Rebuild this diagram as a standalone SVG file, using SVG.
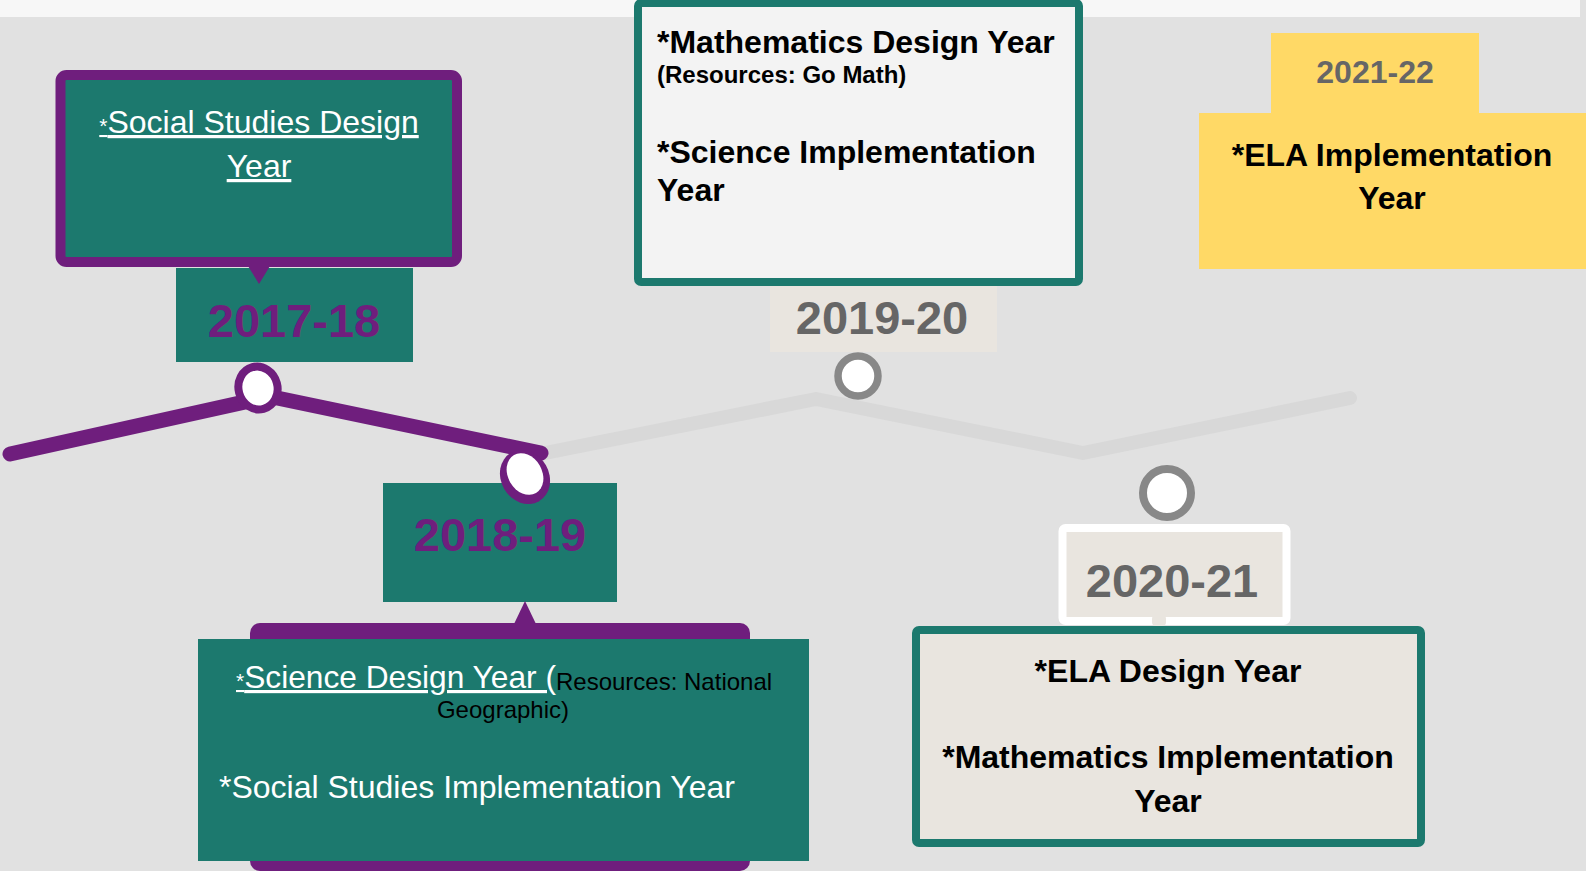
<svg xmlns="http://www.w3.org/2000/svg" width="1586" height="871" viewBox="0 0 1586 871">
<style>
  text { font-family: "Liberation Sans", Arial, sans-serif; }
  .teal { fill: #1c796e; }
  .purple { fill: #6f1e7d; }
  .wt { fill: #ffffff; }
  .bk { fill: #000000; }
  .b { font-weight: bold; }
  .yr { font-weight: bold; font-size: 47px; text-anchor: middle; }
  .yrp { fill: #6f1e7d; }
  .yrg { fill: #666666; }
  .u { text-decoration: underline; }
</style>
<rect x="0" y="0" width="1586" height="871" fill="#e1e1e1"/>
<rect x="0" y="0" width="1580" height="17" fill="#f7f7f7"/>

<g id="connectors">
  <polyline points="535,455 816,399 1083,453 1350,398" fill="none" stroke="#d8d8d8" stroke-width="14" stroke-linecap="round" stroke-linejoin="round"/>
  <line x1="10" y1="454" x2="258" y2="399" stroke="#6f1e7d" stroke-width="15" stroke-linecap="round"/>
  <line x1="258" y1="394" x2="541" y2="453" stroke="#6f1e7d" stroke-width="15" stroke-linecap="round"/>
</g>

<g id="node-2017-18">
  <rect x="176" y="268" width="237" height="94" class="teal"/>
  <text x="294" y="337" class="yr yrp">2017-18</text>
  <rect x="60.5" y="75" width="396.5" height="187" rx="6" fill="#1c796e" stroke="#6f1e7d" stroke-width="10"/>
  <polygon points="248,266 270,266 259,284" class="purple"/>
  <text x="259" y="133" text-anchor="middle" class="wt u"><tspan font-size="21">*</tspan><tspan font-size="32">Social Studies Design</tspan></text>
  <text x="259" y="177" text-anchor="middle" font-size="32" class="wt u">Year</text>
  <ellipse cx="258" cy="388" rx="19.5" ry="21.5" transform="rotate(-15 258 388)" fill="#ffffff" stroke="#6f1e7d" stroke-width="8"/>
</g>

<g id="node-2018-19">
  <rect x="383" y="483" width="234" height="119" class="teal"/>
  <text x="500" y="551" class="yr yrp">2018-19</text>
  <rect x="250" y="623" width="500" height="248" rx="10" class="purple"/>
  <polygon points="514,624 536,624 525,601" class="purple"/>
  <rect x="198" y="639" width="611" height="222" class="teal"/>
  <text x="236" y="688"><tspan font-size="21" class="wt u">*</tspan><tspan font-size="31.7" class="wt u">Science Design Year (</tspan><tspan font-size="24" class="bk" dy="2">Resources: National</tspan></text>
  <text x="503" y="718" font-size="24" text-anchor="middle" class="bk">Geographic)</text>
  <text x="219" y="798" font-size="32" class="wt">*Social Studies Implementation Year</text>
  <ellipse cx="525" cy="477" rx="24" ry="28" transform="rotate(-30 525 477)" fill="#6f1e7d"/>
  <ellipse cx="525" cy="474" rx="17" ry="22" transform="rotate(-30 525 474)" fill="#ffffff"/>
</g>

<g id="node-2019-20">
  <rect x="770" y="282" width="227" height="70" fill="#e9e5df"/>
  <text x="882" y="334" class="yr yrg">2019-20</text>
  <rect x="638" y="3" width="441" height="279" rx="3" fill="#f3f3f3" stroke="#1c796e" stroke-width="8"/>
  <text x="657" y="53" font-size="32" class="b bk">*Mathematics Design Year</text>
  <text x="657" y="83" font-size="24" class="b bk">(Resources: Go Math)</text>
  <text x="657" y="163" font-size="32" class="b bk">*Science Implementation</text>
  <text x="657" y="201" font-size="32" class="b bk">Year</text>
  <circle cx="858" cy="376" r="20" fill="#ffffff" stroke="#888888" stroke-width="7.5"/>
</g>

<g id="node-2020-21">
  <circle cx="1167" cy="493" r="24" fill="#ffffff" stroke="#888888" stroke-width="8"/>
  <rect x="1062.5" y="528" width="224" height="93" rx="3" fill="#e9e5df" stroke="#ffffff" stroke-width="8"/>
  <text x="1172" y="597" class="yr yrg">2020-21</text>
  <rect x="1152" y="615" width="14" height="11" rx="4" fill="#e9e5df"/>
  <rect x="916" y="630" width="505" height="213" rx="3" fill="#e9e5df" stroke="#1c796e" stroke-width="8"/>
  <text x="1168" y="682" font-size="32" text-anchor="middle" class="b bk">*ELA Design Year</text>
  <text x="1168" y="768" font-size="32" text-anchor="middle" class="b bk">*Mathematics Implementation</text>
  <text x="1168" y="812" font-size="32" text-anchor="middle" class="b bk">Year</text>
</g>

<g id="node-2021-22">
  <rect x="1271" y="33" width="208" height="81" fill="#ffd966"/>
  <rect x="1199" y="113" width="387" height="156" fill="#ffd966"/>
  <text x="1375" y="83" font-size="32" text-anchor="middle" class="b yrg">2021-22</text>
  <text x="1392" y="166" font-size="32" text-anchor="middle" class="b bk">*ELA Implementation</text>
  <text x="1392" y="209" font-size="32" text-anchor="middle" class="b bk">Year</text>
</g>
</svg>
